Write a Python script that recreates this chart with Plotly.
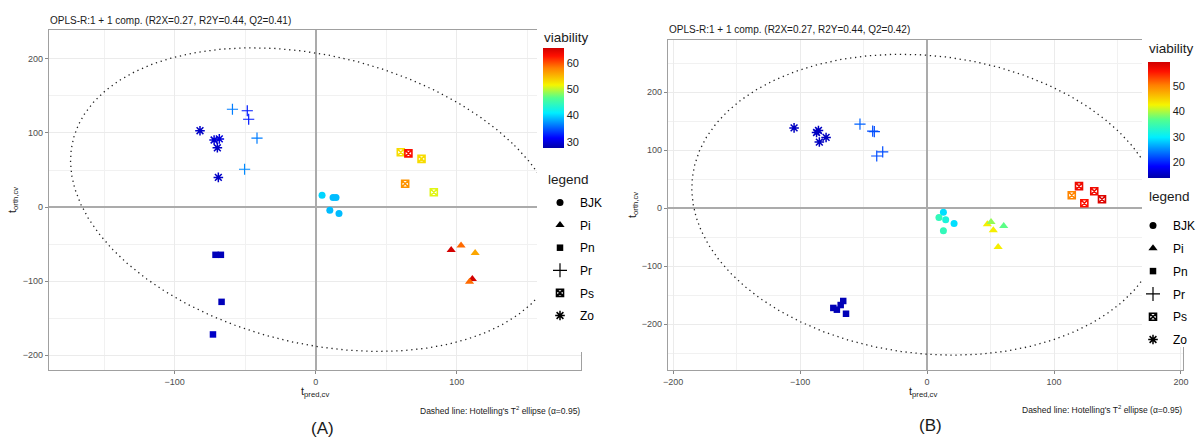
import numpy as np
import plotly.graph_objects as go

# ---------------- data ----------------
groups = ["BJK", "Pi", "Pn", "Pr", "Ps", "Zo"]

# Panel A
a_group = ["BJK"] * 5 + ["Pi"] * 5 + ["Pn"] * 4 + ["Pr"] * 5 + ["Ps"] * 5 + ["Zo"] * 5
a_x = [4.5, 12.3, 14.4, 10, 16.5,
       96, 103, 113, 111, 109,
       -71, -67.2, -66.7, -72.8,
       -59, -48.5, -47.5, -41.6, -50.4,
       60.3, 65.7, 75, 63.4, 83.7,
       -82, -72, -68.3, -69.7, -69]
a_y = [16, 13, 13, -4.5, -8.6,
       -58, -52, -62, -97, -101,
       -64.5, -64.5, -128, -172,
       132, 130, 118.5, 93, 51,
       74, 72.5, 65, 31.5, 20,
       103, 90.5, 92, 80, 40]
a_viab = [40, 39, 39, 39, 39,
          65.5, 59, 56, 65.5, 59,
          28.5, 28.5, 28.5, 29,
          36.5, 32.5, 32.5, 36.5, 37,
          53, 63, 53, 57, 51,
          29, 29.5, 30, 29, 29]

# Panel B
b_group = ["BJK"] * 5 + ["Pi"] * 5 + ["Pn"] * 5 + ["Pr"] * 5 + ["Ps"] * 5 + ["Zo"] * 5
b_x = [12.9, 9.4, 14.7, 21.3, 12.9,
       47.5, 50.4, 52.2, 60.4, 56,
       -73.8, -71, -68, -66, -63.8,
       -52.8, -42.8, -41.5, -39.6, -34.9,
       119.7, 114, 131.7, 123.9, 137.8,
       -104.7, -87, -85.5, -84.8, -79.5]
b_y = [-7, -16, -20, -26.5, -39,
       -27.6, -24, -38, -30.5, -67,
       -172, -175, -167, -160, -182,
       145, 133, 132, 90, 97,
       38, 22.4, 29.3, 8.6, 15.5,
       138.4, 130.5, 134, 114, 122]
b_viab = [29, 34, 32, 29, 34,
          43, 39, 43, 37, 43,
          14.5, 14.5, 14.5, 14.5, 14.5,
          23, 22, 22, 22, 22,
          57, 50, 57, 56, 58.5,
          15, 15, 15, 15, 15]

# Hotelling ellipse parameters (center x, center y, semi-axis a, semi-axis b, angle deg)
a_ellipse = [0, 10, 158.7, 216.8, 28.6]
b_ellipse = [0, 6, 183.0, 261.0, 8.9]

a_title = "OPLS-R:1 + 1 comp. (R2X=0.27, R2Y=0.44, Q2=0.41)"
b_title = "OPLS-R:1 + 1 comp. (R2X=0.27, R2Y=0.44, Q2=0.42)"
a_cticks = [30, 40, 50, 60]
b_cticks = [20, 30, 40, 50]
axis_ticks = [-200, -100, 0, 100, 200]

# ---------------- style ----------------
W, H = 1198, 441
FONT = "Liberation Sans, Arial, sans-serif"
symbols = {"BJK": "circle", "Pi": "triangle-up", "Pn": "square",
           "Pr": "cross-thin-open", "Ps": "square-x-open", "Zo": "asterisk-open"}
sizes = {"BJK": 7, "Pi": 8, "Pn": 6.5, "Pr": 8, "Ps": 7, "Zo": 8}
lw = {"BJK": 0, "Pi": 0, "Pn": 0, "Pr": 1.2, "Ps": 1.6, "Zo": 1.5}
cscale = [[0, "#0000A8"], [0.1, "#0000FF"], [0.35, "#00EEFF"], [0.5, "#50FF90"],
          [0.63, "#F5F500"], [0.8, "#FF8000"], [0.92, "#FF1000"], [1, "#D00000"]]


def px(xp):
    return xp / W


def py(yp):
    return 1 - yp / H


fig = go.Figure()


def ellipse(p):
    cx, cy, a, b, ang = p
    t = np.linspace(0, 2 * np.pi, 500)
    th = np.deg2rad(ang)
    ex = cx + a * np.cos(th) * np.cos(t) - b * np.sin(th) * np.sin(t)
    ey = cy + a * np.sin(th) * np.cos(t) + b * np.cos(th) * np.sin(t)
    return ex, ey


for (xa, ya, ca, gl, xs, ys, vs, ep, lg) in [
    ("x", "y", "coloraxis", a_group, a_x, a_y, a_viab, a_ellipse, "legend"),
    ("x2", "y2", "coloraxis2", b_group, b_x, b_y, b_viab, b_ellipse, "legend2"),
]:
    ex, ey = ellipse(ep)
    fig.add_trace(go.Scatter(x=ex, y=ey, mode="lines", xaxis=xa, yaxis=ya,
                             line=dict(color="#222222", width=1.3, dash="1.3px,3.7px"),
                             showlegend=False, hoverinfo="skip"))
    for g in groups:
        idx = [i for i, gg in enumerate(gl) if gg == g]
        fig.add_trace(go.Scatter(
            x=[xs[i] for i in idx], y=[ys[i] for i in idx], mode="markers",
            xaxis=xa, yaxis=ya, showlegend=False,
            marker=dict(symbol=symbols[g], size=sizes[g],
                        color=[vs[i] for i in idx], coloraxis=ca,
                        line=dict(width=lw[g]))))
    for g in groups:
        fig.add_trace(go.Scatter(
            x=[None], y=[None], mode="markers", xaxis=xa, yaxis=ya, name=g,
            legend=lg, legendgroup=lg + g,
            marker=dict(symbol=symbols[g], size=sizes[g] + (2 if g == "Pr" else 0),
                        color="black", line=dict(width=lw[g], color="black"))))

axis_common = dict(
    showline=True, mirror=True, linecolor="#A0A0A0", linewidth=1.2,
    showgrid=True, gridcolor="#EBEBEB", gridwidth=1,
    zeroline=True, zerolinecolor="#ABABAB", zerolinewidth=1.5,
    tickvals=axis_ticks, ticks="outside", ticklen=3, tickcolor="#888888",
    tickfont=dict(size=9, color="#4D4D4D", family=FONT),
    minor=dict(tickvals=[-250, -150, -50, 50, 150, 250], showgrid=True,
               gridcolor="#F1F1F1", gridwidth=1, ticks=""),
)

cb_common = dict(lenmode="pixels", xanchor="left", yanchor="top", outlinewidth=0,
                 ticks="", tickfont=dict(size=11, family=FONT, color="#1A1A1A"),
                 xpad=0, ypad=0, bgcolor="rgba(0,0,0,0)")
lg_common = dict(xanchor="left", yanchor="top", font=dict(size=12, family=FONT),
                 bgcolor="rgba(0,0,0,0)", itemwidth=30, traceorder="grouped",
                 itemsizing="trace")

fig.update_layout(
    width=W, height=H, margin=dict(l=0, r=0, t=0, b=0, autoexpand=False),
    paper_bgcolor="white", plot_bgcolor="white",
    font=dict(family=FONT, color="black"),
    xaxis=dict(domain=[px(49), px(581)], range=[-189, 188], anchor="y", **axis_common),
    yaxis=dict(domain=[py(370), py(30)], range=[-220, 239], anchor="x", **axis_common),
    xaxis2=dict(domain=[px(668), px(1183)], range=[-204, 201.6], anchor="y2", **axis_common),
    yaxis2=dict(domain=[py(370), py(40)], range=[-279, 290], anchor="x2", **axis_common),
    coloraxis=dict(colorscale=cscale, cmin=27.7, cmax=65.7,
                   colorbar=dict(x=px(543), y=py(48), len=100, thickness=21,
                                 tickvals=a_cticks, **cb_common)),
    coloraxis2=dict(colorscale=cscale, cmin=13.7, cmax=59.5,
                    colorbar=dict(x=px(1148), y=py(62), len=116, thickness=22,
                                  tickvals=b_cticks, **cb_common)),
    legend=dict(x=px(540), y=py(188), tracegroupgap=3.6, **lg_common),
    legend2=dict(x=px(1133), y=py(211), tracegroupgap=3.8, **lg_common),
    shapes=[
        dict(type="rect", xref="paper", yref="paper", layer="above",
             x0=px(537), x1=px(600), y0=py(352), y1=1, fillcolor="white", line=dict(width=0)),
        dict(type="rect", xref="paper", yref="paper", layer="above",
             x0=px(1142), x1=1, y0=py(347), y1=1, fillcolor="white", line=dict(width=0)),
    ],
)

ann = []
ann.append(dict(text=a_title, x=px(48), y=py(20), xanchor="left", yanchor="middle",
                font=dict(size=10, color="#1A1A1A")))
ann.append(dict(text=b_title, x=px(667), y=py(29), xanchor="left", yanchor="middle",
                font=dict(size=10, color="#1A1A1A")))
for cx, cy in [(315, 392), (923, 392)]:
    ann.append(dict(text="t<sub>pred,cv</sub>", x=px(cx), y=py(cy), xanchor="center",
                    yanchor="middle", font=dict(size=11, color="#1A1A1A")))
for cx, cy in [(13, 200), (633, 205)]:
    ann.append(dict(text="t<sub>orth,cv</sub>", x=px(cx), y=py(cy), xanchor="center",
                    yanchor="middle", textangle=-90, font=dict(size=11, color="#1A1A1A")))
for cx, cy in [(582, 410), (1184, 409)]:
    ann.append(dict(text="Dashed line: Hotelling's T<sup>2</sup> ellipse (\u03b1=0.95)",
                    x=px(cx), y=py(cy), xanchor="right", yanchor="middle",
                    font=dict(size=8.5, color="#1A1A1A")))
for txt, cx, cy in [("(A)", 322, 428), ("(B)", 930, 425)]:
    ann.append(dict(text=txt, x=px(cx), y=py(cy), xanchor="center", yanchor="middle",
                    font=dict(size=17, color="#1A1A1A")))
# colorbar and legend titles
for txt, cx, cy in [("viability", 542, 37), ("viability", 1147, 48),
                    ("legend", 546, 179), ("legend", 1147, 196)]:
    ann.append(dict(text=txt, x=px(cx), y=py(cy), xanchor="left", yanchor="middle",
                    font=dict(size=13.5, color="#1A1A1A")))
for a in ann:
    a.update(xref="paper", yref="paper", showarrow=False)
fig.update_layout(annotations=ann)

fig.write_html("out.html", config={"displayModeBar": False},
               post_script="document.body.style.margin='0px';"
                           "document.body.style.padding='0px';"
                           "document.documentElement.style.overflow='hidden';")
